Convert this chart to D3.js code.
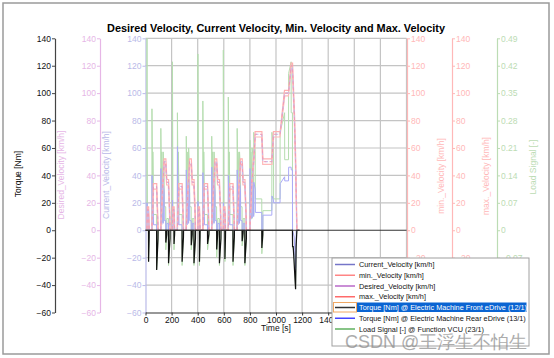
<!DOCTYPE html>
<html><head><meta charset="utf-8">
<script src="https://cdn.jsdelivr.net/npm/d3@7"></script>
<style>
body{margin:0;background:#fff}
svg{display:block}
text{font-family:"Liberation Sans",Arial,sans-serif}
</style></head>
<body><svg id="c" width="554" height="358"></svg>
<script>
// ---------- data ----------
const title = "Desired Velocity, Current Velocity, Min. Velocity and Max. Velocity";
const timeTicks = [0,200,400,600,800,1000,1200,1400,1600,1800,2000];
const torqueTicks = [-60,-40,-20,0,20,40,60,80,100,120,140];
const loadTicks = [-0.21,-0.14,-0.07,0,0.07,0.14,0.21,0.28,0.35,0.42,0.49];

const desiredVelocity = [
[0,0],[11,0],[15,15],[23,15],[25,10],[28,0],[49,0],[54,15],[56,15],[61,32],[85,32],[93,10],[96,0],[117,0],[122,15],[124,15],[133,35],[135,35],[143,50],[155,50],[163,35],[176,35],[186,10],[188,0],
[206,0],[210,15],[218,15],[220,10],[223,0],[244,0],[249,15],[251,15],[256,32],[280,32],[288,10],[291,0],[312,0],[317,15],[319,15],[328,35],[330,35],[338,50],[350,50],[358,35],[371,35],[381,10],[383,0],
[401,0],[405,15],[413,15],[415,10],[418,0],[439,0],[444,15],[446,15],[451,32],[475,32],[483,10],[486,0],[507,0],[512,15],[514,15],[523,35],[525,35],[533,50],[545,50],[553,35],[566,35],[576,10],[578,0],
[596,0],[600,15],[608,15],[610,10],[613,0],[634,0],[639,15],[641,15],[646,32],[670,32],[678,10],[681,0],[702,0],[707,15],[709,15],[718,35],[720,35],[728,50],[740,50],[748,35],[761,35],[771,10],[773,0],
[800,0],[805,15],[807,15],[814,35],[816,35],[827,50],[829,50],[841,70],[891,70],[899,50],[968,50],[981,70],[1031,70],[1066,100],[1096,100],[1116,120],[1126,120],[1142,80],[1150,50],[1160,0],[1180,0]
];
const maxVelocity = [
[0,0],[10,0],[14,17],[24,17],[26,12],[29,0],[48,0],[53,17],[55,17],[60,34],[86,34],[94,12],[97,0],[116,0],[121,17],[123,17],[132,37],[134,37],[142,52],[156,52],[164,37],[177,37],[187,12],[189,0],
[205,0],[209,17],[219,17],[221,12],[224,0],[243,0],[248,17],[250,17],[255,34],[281,34],[289,12],[292,0],[311,0],[316,17],[318,17],[327,37],[329,37],[337,52],[351,52],[359,37],[372,37],[382,12],[384,0],
[400,0],[404,17],[414,17],[416,12],[419,0],[438,0],[443,17],[445,17],[450,34],[476,34],[484,12],[487,0],[506,0],[511,17],[513,17],[522,37],[524,37],[532,52],[546,52],[554,37],[567,37],[577,12],[579,0],
[595,0],[599,17],[609,17],[611,12],[614,0],[633,0],[638,17],[640,17],[645,34],[671,34],[679,12],[682,0],[701,0],[706,17],[708,17],[717,37],[719,37],[727,52],[741,52],[749,37],[762,37],[772,12],[774,0],
[799,0],[804,17],[808,17],[813,37],[817,37],[826,52],[830,52],[840,72],[892,72],[900,52],[967,52],[980,72],[1032,72],[1065,102],[1097,102],[1115,122],[1127,122],[1143,82],[1151,52],[1161,0],[1180,0]
];
const minVelocity = [
[0,0],[12,0],[16,13],[22,13],[24,8],[27,0],[50,0],[55,13],[57,13],[62,30],[84,30],[92,8],[95,0],[118,0],[123,13],[125,13],[134,33],[136,33],[144,48],[154,48],[162,33],[175,33],[185,8],[187,0],
[207,0],[211,13],[217,13],[219,8],[222,0],[245,0],[250,13],[252,13],[257,30],[279,30],[287,8],[290,0],[313,0],[318,13],[320,13],[329,33],[331,33],[339,48],[349,48],[357,33],[370,33],[380,8],[382,0],
[402,0],[406,13],[412,13],[414,8],[417,0],[440,0],[445,13],[447,13],[452,30],[474,30],[482,8],[485,0],[508,0],[513,13],[515,13],[524,33],[526,33],[534,48],[544,48],[552,33],[565,33],[575,8],[577,0],
[597,0],[601,13],[607,13],[609,8],[612,0],[635,0],[640,13],[642,13],[647,30],[669,30],[677,8],[680,0],[703,0],[708,13],[710,13],[719,33],[721,33],[729,48],[739,48],[747,33],[760,33],[770,8],[772,0],
[801,0],[806,13],[808,13],[815,33],[817,33],[828,48],[830,48],[842,68],[890,68],[898,48],[969,48],[982,68],[1030,68],[1067,98],[1095,98],[1117,118],[1125,118],[1141,78],[1149,48],[1159,0],[1180,0]
];
const currentVelocity = [
[0,0],[11,0],[15,15],[23,15],[25,10],[28,0],[49,0],[54,15],[56,14],[61,32],[85,32],[93,10],[96,0],[117,0],[122,15],[124,14],[133,35],[135,34],[143,50],[155,50],[163,35],[176,35],[186,10],[188,0],
[206,0],[210,15],[218,15],[220,10],[223,0],[244,0],[249,15],[251,14],[256,32],[280,32],[288,10],[291,0],[312,0],[317,15],[319,14],[328,35],[330,34],[338,50],[350,50],[358,35],[371,35],[381,10],[383,0],
[401,0],[405,15],[413,15],[415,10],[418,0],[439,0],[444,15],[446,14],[451,32],[475,32],[483,10],[486,0],[507,0],[512,15],[514,14],[523,35],[525,34],[533,50],[545,50],[553,35],[566,35],[576,10],[578,0],
[596,0],[600,15],[608,15],[610,10],[613,0],[634,0],[639,15],[641,14],[646,32],[670,32],[678,10],[681,0],[702,0],[707,15],[709,14],[718,35],[720,34],[728,50],[740,50],[748,35],[761,35],[771,10],[773,0],
[800,0],[805,15],[807,14],[814,35],[816,34],[827,50],[829,49],[841,70],[891,70],[899,50],[968,50],[981,70],[1031,70],[1066,100],[1096,100],[1116,119],[1126,119],[1142,80],[1150,50],[1160,0],[1180,0]
];
const torqueFront = [
[0,0],[23,0],[23.5,-23],[28,-5],[28.5,0],[85,0],[85.5,-29],[96,-6],[96.5,0],[155,0],[155.5,-9],[163,-3],[163.5,0],[176,0],[176.5,-24],[188,-6],[188.5,0],
[218,0],[218.5,-10],[223,-3],[223.5,0],[280,0],[280.5,-23],[291,-5],[291.5,0],[350,0],[350.5,-11],[358,-3],[358.5,0],[371,0],[371.5,-24],[383,-6],[383.5,0],
[413,0],[413.5,-23],[418,-5],[418.5,0],[475,0],[475.5,-10],[486,-3],[486.5,0],[545,0],[545.5,-14],[553,-3],[553.5,0],[566,0],[566.5,-24],[578,-6],[578.5,0],
[608,0],[608.5,-21],[613,-5],[613.5,0],[670,0],[670.5,-23],[681,-5],[681.5,0],[740,0],[740.5,-8],[748,-2],[748.5,0],[761,0],[761.5,-24],[773,-6],[773.5,0],
[891,0],[891.5,-13],[899,-3],[899.5,0],[1126,0],[1127,-12],[1132,-12],[1150,-43],[1154,-12],[1160,0],[1180,0]
];
const torqueRear = [
[0,0],[11,0],[12,20],[15,6],[23,3],[23.5,0],[49,0],[50,40],[54,18],[56,4],[57,25],[61,10],[62,4],[85,4],[85.5,0],[117,0],[118,45],[122,24],[124,4],[125,30],[133,20],[135,5],[136,35],[143,28],[144,7],[155,7],[155.5,0],[163,0],[164,5],[176,5],[176.5,0],
[206,0],[207,22],[210,6],[218,3],[218.5,0],[244,0],[245,61],[249,18],[251,4],[252,26],[256,10],[257,4],[280,4],[280.5,0],[312,0],[313,44],[317,24],[319,4],[320,30],[328,20],[330,5],[331,36],[338,27],[339,7],[350,7],[350.5,0],[358,0],[359,5],[371,5],[371.5,0],
[401,0],[402,21],[405,6],[413,3],[413.5,0],[439,0],[440,42],[444,18],[446,4],[447,25],[451,10],[452,4],[475,4],[475.5,0],[507,0],[508,46],[512,24],[514,4],[515,31],[523,20],[525,5],[526,35],[533,28],[534,7],[545,7],[545.5,0],[553,0],[554,5],[566,5],[566.5,0],
[596,0],[597,20],[600,6],[608,3],[608.5,0],[634,0],[635,40],[639,18],[641,4],[642,25],[646,10],[647,4],[670,4],[670.5,0],[702,0],[703,44],[707,24],[709,4],[710,30],[718,20],[720,5],[721,35],[728,28],[729,7],[740,7],[740.5,0],[748,0],[749,5],[761,5],[761.5,0],
[800,0],[801,45],[805,28],[807,8],[808,35],[814,28],[816,9],[817,35],[827,30],[829,10],[830,35],[841,30],[842,13],[891,13],[891.5,0],[899,0],[900,11],[968,11],[969,25],[981,22],[982,20],[1031,20],[1032,34],[1066,39],[1067,36],[1096,36],[1097,46],[1116,46],[1117,44],[1126,44],[1127,0],[1140,-5],[1150,-30],[1155,0],[1180,0]
];
const loadSignal = [
[0,0],[11,0],[11.5,0.49],[13,0.2],[15,0.05],[23,0.03],[23.5,-0.08],[28,-0.02],[28.5,0],[49,0],[49.5,0.31],[54,0.14],[56,0.02],[56.5,0.2],[61,0.1],[61.5,0.04],[85,0.04],[85.5,-0.1],[96,-0.02],[96.5,0],[117,0],[117.5,0.26],[122,0.14],[124,0.02],[124.5,0.2],[133,0.12],[135,0.02],[135.5,0.2],[143,0.15],[143.5,0.06],[155,0.06],[155.5,-0.05],[163,-0.02],[163.5,0.03],[176,0.03],[176.5,-0.09],[188,-0.02],[188.5,0],
[206,0],[206.5,0.43],[210,0.06],[218,0.03],[218.5,-0.05],[223,-0.01],[223.5,0],[244,0],[244.5,0.3],[249,0.14],[251,0.02],[251.5,0.2],[256,0.1],[256.5,0.04],[280,0.04],[280.5,-0.09],[291,-0.02],[291.5,0],[312,0],[312.5,0.24],[317,0.14],[319,0.02],[319.5,0.2],[328,0.12],[330,0.02],[330.5,0.21],[338,0.15],[338.5,0.06],[350,0.06],[350.5,-0.05],[358,-0.02],[358.5,0.03],[371,0.03],[371.5,-0.09],[383,-0.02],[383.5,0],
[401,0],[401.5,0.45],[405,0.06],[413,0.03],[413.5,-0.09],[418,-0.02],[418.5,0],[439,0],[439.5,0.33],[444,0.14],[446,0.02],[446.5,0.2],[451,0.1],[451.5,0.04],[475,0.04],[475.5,-0.05],[486,-0.02],[486.5,0],[507,0],[507.5,0.24],[512,0.14],[514,0.02],[514.5,0.2],[523,0.12],[525,0.02],[525.5,0.2],[533,0.15],[533.5,0.06],[545,0.06],[545.5,-0.07],[553,-0.02],[553.5,0.03],[566,0.03],[566.5,-0.09],[578,-0.02],[578.5,0],
[596,0],[596.5,0.46],[600,0.06],[608,0.03],[608.5,-0.08],[613,-0.02],[613.5,0],[634,0],[634.5,0.34],[639,0.14],[641,0.02],[641.5,0.2],[646,0.1],[646.5,0.04],[670,0.04],[670.5,-0.09],[681,-0.02],[681.5,0],[702,0],[702.5,0.26],[707,0.14],[709,0.02],[709.5,0.2],[718,0.12],[720,0.02],[720.5,0.2],[728,0.15],[728.5,0.06],[740,0.06],[740.5,-0.04],[748,-0.02],[748.5,0.03],[761,0.03],[761.5,-0.09],[773,-0.02],[773.5,0],
[800,0],[800.5,0.23],[805,0.14],[807,0.03],[807.5,0.2],[814,0.15],[816,0.03],[816.5,0.21],[827,0.18],[829,0.04],[829.5,0.25],[841,0.2],[841.5,0.08],[891,0.08],[891.5,-0.06],[899,-0.02],[899.5,0.05],[968,0.05],[968.5,0.25],[981,0.22],[981.5,0.08],[1031,0.08],[1031.5,0.25],[1066,0.3],[1066.5,0.18],[1096,0.18],[1096.5,0.4],[1116,0.43],[1116.5,0.3],[1126,0.3],[1126.5,-0.04],[1140,-0.06],[1150,-0.15],[1156,-0.02],[1160,0],[1180,0]
];

const legendItems = [
 {name:"Current_Velocity [km/h]", color:"#7575c8"},
 {name:"min._Velocity [km/h]", color:"#ff8585"},
 {name:"Desired_Velocity [km/h]", color:"#b868c8"},
 {name:"max._Velocity [km/h]", color:"#ff6a6a"},
 {name:"Torque [Nm] @ Electric Machine Front eDrive (12/1)", color:"#333333", selected:true},
 {name:"Torque [Nm] @ Electric Machine Rear eDrive (13/1)", color:"#4545ff"},
 {name:"Load Signal [-] @ Function VCU (23/1)", color:"#5fb05f"}
];

// ---------- layout ----------
const svg = d3.select("#c");
const L = 145.5, R = 406.5, T = 38.3, B = 312.5;
const LEG = {x:332, y:258, w:197, h:88};
const x = d3.scaleLinear().domain([0,2000]).range([L,R]);
const y = d3.scaleLinear().domain([-60,140]).range([B,T]);
const yl = d3.scaleLinear().domain([-0.21,0.49]).range([B,T]);

// outer frame
svg.append("rect").attr("x",3).attr("y",3).attr("width",546).attr("height",351)
  .attr("fill","#fff").attr("stroke","#9a9a9a").attr("stroke-width",1.5);

// title
svg.append("text").attr("x",(L+R)/2).attr("y",32).attr("text-anchor","middle")
  .attr("font-weight","bold").attr("font-size",10.9).attr("fill","#000").text(title);

// grid
const grid = svg.append("g");
timeTicks.filter(d=>d>0).forEach(d=>{
  grid.append("line").attr("x1",x(d)).attr("x2",x(d)).attr("y1",T).attr("y2",B)
    .attr("stroke","#c4c4c4").attr("stroke-width",1.2);
});
torqueTicks.filter(d=>d>-60 && d!==0).forEach(d=>{
  grid.append("line").attr("x1",L).attr("x2",R).attr("y1",y(d)).attr("y2",y(d))
    .attr("stroke","#c4c4c4").attr("stroke-width",1.2);
});

// axes helper
function styleAxis(g, color, textColor){
  g.selectAll("path.domain").attr("stroke",color).attr("stroke-width",1.2);
  g.selectAll(".tick line").attr("stroke",color);
  g.selectAll(".tick text").attr("fill",textColor||color).attr("font-size",8.5)
    .attr("font-family","Liberation Sans, Arial, sans-serif");
}
// tick labels that sit fully under the legend box are not visible in the chart
function hideUnderLegend(g, horizontal){
  g.selectAll(".tick").each(function(){
    const bb = this.getBoundingClientRect();
    const inside = bb.left >= LEG.x-1 && bb.right <= LEG.x+LEG.w+1 && bb.top >= LEG.y-1 && bb.bottom <= LEG.y+LEG.h+1;
    if(inside) d3.select(this).select("text").remove();
  });
}
function leftAxis(xpos, scale, ticks, color, textColor, fmt){
  const a = d3.axisLeft(scale).tickValues(ticks).tickSize(3).tickPadding(1).tickSizeOuter(0);
  if(fmt) a.tickFormat(fmt);
  const g = svg.append("g").attr("transform",`translate(${xpos},0)`).call(a);
  styleAxis(g,color,textColor); return g;
}
function rightAxis(xpos, scale, ticks, color, textColor, fmt){
  const a = d3.axisRight(scale).tickValues(ticks).tickSize(3).tickPadding(1).tickSizeOuter(0);
  if(fmt) a.tickFormat(fmt);
  const g = svg.append("g").attr("transform",`translate(${xpos},0)`).call(a);
  styleAxis(g,color,textColor); hideUnderLegend(g); return g;
}
function vlabel(xpos, ycen, txt, color){
  svg.append("text").attr("transform",`translate(${xpos},${ycen}) rotate(-90)`)
    .attr("text-anchor","middle").attr("font-size",8.5).attr("fill",color).text(txt);
}
leftAxis(55, y, torqueTicks, "#444", "#111");
leftAxis(100, y, torqueTicks, "#e6b6e6");
leftAxis(L, y, torqueTicks, "#babae8");
rightAxis(407, y, torqueTicks, "#ffb8b8");
rightAxis(452, y, torqueTicks, "#ffb8b8");
rightAxis(497, yl, loadTicks, "#bcdcb4", "#bcdcb4", d=>d===0?"0":d3.format(".2f")(d));

vlabel(21, 174, "Torque [Nm]", "#111");
vlabel(64, 175, "Desired_Velocity [km/h]", "#e6b6e6");
vlabel(109, 175, "Current_Velocity [km/h]", "#babae8");
vlabel(444, 176, "min._Velocity [km/h]", "#ffb8b8");
vlabel(489, 176, "max._Velocity [km/h]", "#ffb8b8");
vlabel(536, 167, "Load Signal [-]", "#bcdcb4");

// series
const line = d3.line().x(d=>x(d[0])).y(d=>y(d[1]));
const lineL = d3.line().x(d=>x(d[0])).y(d=>yl(d[1]));
const plot = svg.append("g");
plot.append("path").datum(loadSignal).attr("d",lineL).attr("fill","none").attr("stroke","#b6deb0").attr("stroke-width",1);
plot.append("path").datum(torqueRear).attr("d",line).attr("fill","none").attr("stroke","#ababf8").attr("stroke-width",1);
plot.append("path").datum(minVelocity).attr("d",line).attr("fill","none").attr("stroke","#ffbaba").attr("stroke-width",1.2);
plot.append("path").datum(maxVelocity).attr("d",line).attr("fill","none").attr("stroke","#ffb0b0").attr("stroke-width",1.2);
plot.append("path").datum(currentVelocity).attr("d",line).attr("fill","none").attr("stroke","#bdbdf2").attr("stroke-width",1).attr("stroke-dasharray","3,3");
plot.append("path").datum(desiredVelocity).attr("d",line).attr("fill","none").attr("stroke","#ee9ab8").attr("stroke-width",1).attr("stroke-dasharray","3,3").attr("stroke-dashoffset",3);

// zero line
svg.append("line").attr("x1",L).attr("x2",R).attr("y1",y(0)).attr("y2",y(0)).attr("stroke","#333").attr("stroke-width",1.2);
plot.append("path").datum(torqueFront).attr("d",line).attr("fill","none").attr("stroke","#111").attr("stroke-width",1.2);

// x axis
const xa = svg.append("g").attr("transform",`translate(0,${B})`)
  .call(d3.axisBottom(x).tickValues(timeTicks).tickFormat(d3.format("d")).tickSize(3).tickPadding(1).tickSizeOuter(0));
styleAxis(xa,"#333","#111");
hideUnderLegend(xa);
svg.append("text").attr("x",(L+R)/2).attr("y",331).attr("text-anchor","middle")
  .attr("font-size",8.5).attr("fill","#111").text("Time [s]");

// legend
const lg = svg.append("g");
lg.append("rect").attr("x",LEG.x).attr("y",LEG.y).attr("width",LEG.w).attr("height",LEG.h)
  .attr("fill","#fff").attr("stroke","#a0a0a0").attr("stroke-width",1);
legendItems.forEach((it,i)=>{
  const cy = 264.5 + i*10.75;
  if(it.selected){
    lg.append("rect").attr("x",356.5).attr("y",cy-5).attr("width",170).attr("height",9.5).attr("fill","#0a64d2");
    lg.append("rect").attr("x",333.5).attr("y",cy-5).attr("width",23).attr("height",9.5)
      .attr("fill","none").attr("stroke","#f0a864").attr("stroke-width",1);
  }
  lg.append("line").attr("x1",335).attr("x2",355).attr("y1",cy).attr("y2",cy)
    .attr("stroke",it.color).attr("stroke-width",1.5);
  lg.append("text").attr("x",359).attr("y",cy+2.7).attr("font-size",7.3)
    .attr("fill",it.selected?"#fff":"#111").text(it.name);
});

// watermark
svg.append("text").attr("x",345).attr("y",348).attr("font-size",18)
  .attr("font-family","Noto Sans CJK SC, sans-serif").attr("fill","#8a8a8a").attr("opacity",0.7)
  .text("CSDN @王浮生不怕生");
</script></body></html>
